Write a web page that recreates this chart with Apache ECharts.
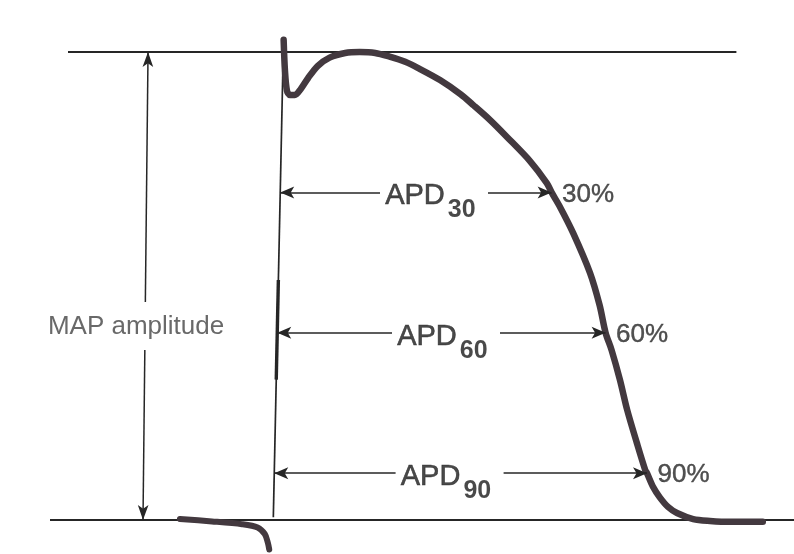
<!DOCTYPE html>
<html>
<head>
<meta charset="utf-8">
<script src="https://cdn.jsdelivr.net/npm/echarts@6/dist/echarts.min.js"></script>
<style>
  html, body { margin: 0; padding: 0; background: #ffffff; }
  #chart { width: 794px; height: 554px; }
</style>
</head>
<body>
<div id="chart"></div>
<script>
// Monophasic action potential (MAP) with APD30 / APD60 / APD90 definitions.
// x: time in ms from the upstroke, y: repolarisation in % of MAP amplitude
// (0 = plateau reference line, 100 = diastolic baseline).

const mapTime  = [-0.3, 0.8, 2.5, 5, 9, 14, 20, 28, 38, 51, 63, 76, 88, 101, 113, 130, 147, 158, 172, 186, 205, 219, 223, 230, 241, 255, 263, 268, 273, 280, 286, 294, 301, 302.5, 307.5, 313, 320, 327.5, 341, 355, 372, 399];
const mapRepol = [-2.6, 4.0, 8.3, 9.2, 9.2, 7.9, 5.6, 3.0, 1.2, 0.2, 0.0, 0.2, 1.0, 2.1, 3.6, 6.0, 9.0, 11.4, 14.6, 18.2, 23.3, 28.0, 30.0, 33.1, 38.7, 47.2, 54.1, 60.0, 63.7, 70.1, 76.5, 83.5, 89.3, 90.0, 92.9, 95.1, 97.2, 98.5, 99.8, 100.2, 100.4, 100.4];

// baseline before the upstroke (stimulus artefact hook at its end)
const preTime  = [-86.7, -60, -35, -22, -16, -13.5, -12.3];
const preRepol = [99.8, 100.3, 100.9, 101.6, 103.0, 104.8, 106.3];

// APD measurement levels and durations (ms)
const apdLevels = [30, 60, 90];
const apdValues = [223, 268, 302.5];
const apdSubscripts = ['30', '60', '90'];
const apdLabelCentre = [122, 132, 135];

// Reference lines
const plateauLine  = { from: -180, to: 377, level: 0 };
const baselineLine = { from: -195, to: 425, level: 100 };

// Hand-drawn time-zero marker (top / bottom points) and its thick stretch
const markerTime  = [-0.4, -8.9];
const markerRepol = [-3.0, 99.4];
const markerThick = [48.7, 70];

// MAP amplitude arrow (top / bottom points) and the gap for its caption
const ampTime  = [-113.3, -117.5];
const ampRepol = [0, 100];
const ampGap   = [53.4, 63.7];

const INK = '#262626';
const TRACE = '#43393f';
const FONT = '"Liberation Sans", Arial, Helvetica, sans-serif';

function interpT(tArr, rArr, r) {
  const f = (r - rArr[0]) / (rArr[1] - rArr[0]);
  return tArr[0] + f * (tArr[1] - tArr[0]);
}

const zip = (a, b) => a.map((v, i) => [v, b[i]]);

const arrowSize = [9, 14];
const arrowLines = [];

// MAP amplitude double arrow, split around its caption
arrowLines.push([
  { coord: [interpT(ampTime, ampRepol, ampGap[0]), ampGap[0]], symbol: 'none' },
  { coord: [ampTime[0], ampRepol[0]], symbol: 'arrow', symbolSize: [8, 15] }
]);
arrowLines.push([
  { coord: [interpT(ampTime, ampRepol, ampGap[1]), ampGap[1]], symbol: 'none' },
  { coord: [ampTime[1], ampRepol[1]], symbol: 'arrow', symbolSize: [8, 15] }
]);

// APD arrows: from the time-zero marker to the trace, split around the label
apdLevels.forEach((lvl, i) => {
  const t0 = interpT(markerTime, markerRepol, lvl);
  arrowLines.push([
    { coord: [t0, lvl], symbol: 'arrow', symbolSize: arrowSize },
    { coord: [apdLabelCentre[i] - 42, lvl], symbol: 'none' }
  ]);
  arrowLines.push([
    { coord: [apdLabelCentre[i] + 48, lvl], symbol: 'none' },
    { coord: [apdValues[i], lvl], symbol: 'arrow', symbolSize: arrowSize }
  ]);
});

const textItems = [];
apdLevels.forEach((lvl, i) => {
  textItems.push({
    value: [apdLabelCentre[i], lvl],
    label: {
      position: 'inside',
      offset: [0, 4],
      formatter: '{a|APD}{s|' + apdSubscripts[i] + '}',
      rich: {
        a: { fontFamily: FONT, fontSize: 29, lineHeight: 29, color: '#1c1c1c', verticalAlign: 'top',
             textBorderColor: '#1c1c1c', textBorderWidth: 0.6 },
        s: { fontFamily: FONT, fontSize: 25, fontWeight: 'bold', lineHeight: 25, color: '#1c1c1c',
             verticalAlign: 'top', padding: [16, 0, 0, 3] }
      }
    }
  });
  textItems.push({
    value: [apdValues[i], lvl],
    label: {
      position: 'right',
      distance: 10,
      offset: [0, 2],
      formatter: apdLevels[i] + '%',
      fontFamily: FONT,
      fontSize: 26,
      color: '#262626',
      textBorderColor: '#262626',
      textBorderWidth: 0.4
    }
  });
});
textItems.push({
  value: [-123.3, 58.8],
  label: {
    position: 'inside',
    formatter: 'MAP amplitude',
    fontFamily: FONT,
    fontSize: 26,
    color: '#444444'
  }
});

const chart = echarts.init(document.getElementById('chart'), null, { renderer: 'canvas' });

chart.setOption({
  backgroundColor: '#ffffff',
  animation: false,
  grid: { left: 50, right: 0, top: 52, bottom: 34, containLabel: false },
  xAxis: { type: 'value', min: -195, max: 425, show: false },
  yAxis: { type: 'value', min: 0, max: 100, inverse: true, show: false },
  series: [
    {
      name: 'plateau reference',
      type: 'line',
      data: [[plateauLine.from, plateauLine.level], [plateauLine.to, plateauLine.level]],
      symbol: 'none',
      clip: false,
      lineStyle: { color: INK, width: 1.8 },
      silent: true
    },
    {
      name: 'baseline reference',
      type: 'line',
      data: [[baselineLine.from, baselineLine.level], [baselineLine.to, baselineLine.level]],
      symbol: 'none',
      clip: false,
      lineStyle: { color: INK, width: 1.8 },
      silent: true
    },
    {
      name: 'time zero',
      type: 'line',
      data: zip(markerTime, markerRepol),
      symbol: 'none',
      clip: false,
      lineStyle: { color: INK, width: 1.7 },
      silent: true,
      markLine: {
        silent: true,
        animation: false,
        label: { show: false },
        emphasis: { disabled: true },
        lineStyle: { color: INK, width: 1.5, type: 'solid' },
        itemStyle: { color: INK },
        data: arrowLines
      }
    },
    {
      name: 'time zero (thick)',
      type: 'line',
      data: markerThick.map(r => [interpT(markerTime, markerRepol, r), r]),
      symbol: 'none',
      clip: false,
      lineStyle: { color: INK, width: 3.4 },
      silent: true
    },
    {
      name: 'pre-upstroke baseline',
      type: 'line',
      data: zip(preTime, preRepol),
      symbol: 'none',
      smooth: 0.3,
      clip: false,
      lineStyle: { color: TRACE, width: 6, cap: 'round', join: 'round' },
      silent: true
    },
    {
      name: 'MAP',
      type: 'line',
      data: zip(mapTime, mapRepol),
      symbol: 'none',
      smooth: 0.3,
      clip: false,
      lineStyle: { color: TRACE, width: 6.5, cap: 'round', join: 'round' },
      silent: true
    },
    {
      name: 'annotations',
      type: 'scatter',
      data: textItems,
      symbol: 'circle',
      symbolSize: 1,
      itemStyle: { color: 'rgba(0,0,0,0)' },
      label: { show: true },
      silent: true
    }
  ]
});
</script>
</body>
</html>
